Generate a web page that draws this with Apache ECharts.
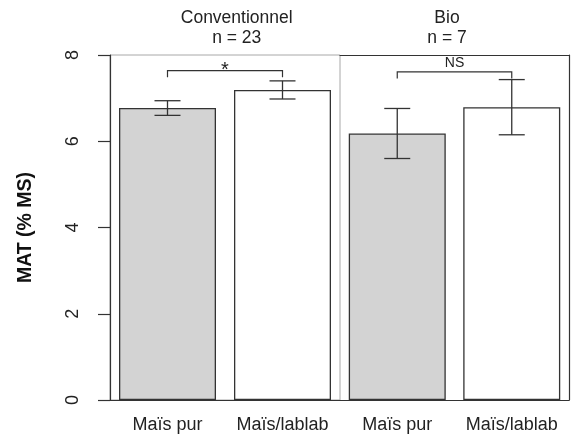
<!DOCTYPE html>
<html><head><meta charset="utf-8">
<script src="https://cdn.jsdelivr.net/npm/echarts@6/dist/echarts.min.js"></script>
<style>html,body{margin:0;padding:0;background:#fff}#c{width:573px;height:440px}</style>
</head><body><div id="c"></div>
<script>
// ---- data ----
const categories = ['Maïs pur', 'Maïs/lablab'];
const groups = ['Conventionnel', 'Bio'];
const groupN = [23, 7];
const convMeans = [6.77, 7.19];
const convErr = [0.17, 0.21];
const bioMeans = [6.18, 6.79];
const bioErr = [0.58, 0.64];
const sigLabels = ['*', 'NS'];
const sigLevels = [7.64, 7.61];
const yTicks = [0, 2, 4, 6, 8];

const FONT = '"Liberation Sans", Arial, sans-serif';
const INK = '#333';
const fills = ['#d3d3d3', '#ffffff'];

function errItem(params, api) {
  const i = api.value(0), m = api.value(1), e = api.value(2);
  const top = api.coord([i, m + e]), bot = api.coord([i, m - e]);
  const x = top[0], w = 13;
  const st = { stroke: INK, lineWidth: 1.3 };
  return { type: 'group', children: [
    { type: 'line', shape: { x1: x, y1: top[1], x2: x, y2: bot[1] }, style: st },
    { type: 'line', shape: { x1: x - w, y1: top[1], x2: x + w, y2: top[1] }, style: st },
    { type: 'line', shape: { x1: x - w, y1: bot[1], x2: x + w, y2: bot[1] }, style: st }
  ]};
}
function bracketFactory(label, fontSize, offset) {
  return function (params, api) {
    const lvl = api.value(0);
    const a = api.coord([0, lvl]), b = api.coord([1, lvl]);
    const d = 6.6;
    return { type: 'group', children: [
      { type: 'polyline', shape: { points: [[a[0], a[1] + d], [a[0], a[1]], [b[0], b[1]], [b[0], b[1] + d]] },
        style: { stroke: INK, lineWidth: 1.2, fill: null } },
      { type: 'text', x: (a[0] + b[0]) / 2, y: a[1] - offset,
        style: { text: label, textAlign: 'center', textVerticalAlign: 'middle',
          font: fontSize + 'px ' + FONT, fill: '#222' } }
    ]};
  };
}

const yMin = yTicks[0], yMax = yTicks[yTicks.length - 1], yStep = yTicks[1] - yTicks[0];
const xLabel = { interval: 0, fontSize: 18, fontFamily: FONT, color: '#222', margin: 16 };

const option = {
  animation: false,
  backgroundColor: '#fff',
  grid: [
    { left: 110, width: 230, top: 55, bottom: 40, show: true, borderColor: '#a8a8a8', borderWidth: 1 },
    { left: 340, width: 229, top: 55, bottom: 40, show: false }
  ],
  xAxis: [
    { type: 'category', gridIndex: 0, data: categories, position: 'bottom',
      axisLine: { show: true, lineStyle: { color: INK, width: 1.2 } }, axisTick: { show: false },
      axisLabel: xLabel },
    { type: 'category', gridIndex: 1, data: categories, position: 'bottom',
      axisLine: { show: true, lineStyle: { color: INK, width: 1.2 } }, axisTick: { show: false },
      axisLabel: xLabel },
    { type: 'category', gridIndex: 1, data: categories, position: 'top',
      axisLine: { show: true, lineStyle: { color: INK, width: 1.2 } }, axisTick: { show: false },
      axisLabel: { show: false } }
  ],
  yAxis: [
    { type: 'value', gridIndex: 0, min: yMin, max: yMax, interval: yStep, position: 'left',
      name: 'MAT (% MS)', nameLocation: 'middle', nameGap: 74,
      nameTextStyle: { fontSize: 19.5, fontWeight: 'bold', fontFamily: FONT, color: '#111' },
      axisLine: { show: true, lineStyle: { color: INK, width: 1.2 } },
      axisTick: { show: true, length: 12, lineStyle: { color: INK, width: 1.2 } },
      axisLabel: { rotate: 90, fontSize: 18, fontFamily: FONT, color: '#222', margin: 28 },
      splitLine: { show: false } },
    { type: 'value', gridIndex: 1, min: yMin, max: yMax, interval: yStep, position: 'right',
      axisLine: { show: true, lineStyle: { color: INK, width: 1.2 } },
      axisTick: { show: false }, axisLabel: { show: false }, splitLine: { show: false } }
  ],
  series: [
    { type: 'bar', xAxisIndex: 0, yAxisIndex: 0, barWidth: 97,
      data: convMeans.map((v, i) => ({ value: v, itemStyle: { color: fills[i] } })),
      itemStyle: { borderColor: INK, borderWidth: 1.3 } },
    { type: 'bar', xAxisIndex: 1, yAxisIndex: 1, barWidth: 97,
      data: bioMeans.map((v, i) => ({ value: v, itemStyle: { color: fills[i] } })),
      itemStyle: { borderColor: INK, borderWidth: 1.3 } },
    { type: 'custom', xAxisIndex: 0, yAxisIndex: 0, renderItem: errItem, z: 5,
      data: convMeans.map((m, i) => [i, m, convErr[i]]) },
    { type: 'custom', xAxisIndex: 1, yAxisIndex: 1, renderItem: errItem, z: 5,
      data: bioMeans.map((m, i) => [i, m, bioErr[i]]) },
    { type: 'custom', xAxisIndex: 0, yAxisIndex: 0, renderItem: bracketFactory(sigLabels[0], 20, 0), z: 5,
      data: [[sigLevels[0]]] },
    { type: 'custom', xAxisIndex: 1, yAxisIndex: 1, renderItem: bracketFactory(sigLabels[1], 14, 8.7), z: 5,
      data: [[sigLevels[1]]] }
  ],
  graphic: [
    { type: 'text', x: 236.7, y: 28.3, style: { text: groups[0] + '\nn = ' + groupN[0], textAlign: 'center',
      textVerticalAlign: 'middle', font: '17.5px ' + FONT, lineHeight: 20, fill: '#222' } },
    { type: 'text', x: 447, y: 28.3, style: { text: groups[1] + '\nn = ' + groupN[1], textAlign: 'center',
      textVerticalAlign: 'middle', font: '17.5px ' + FONT, lineHeight: 20, fill: '#222' } }
  ]
};
const chart = echarts.init(document.getElementById('c'), null, { renderer: 'canvas' });
chart.setOption(option);
</script>
</body></html>
